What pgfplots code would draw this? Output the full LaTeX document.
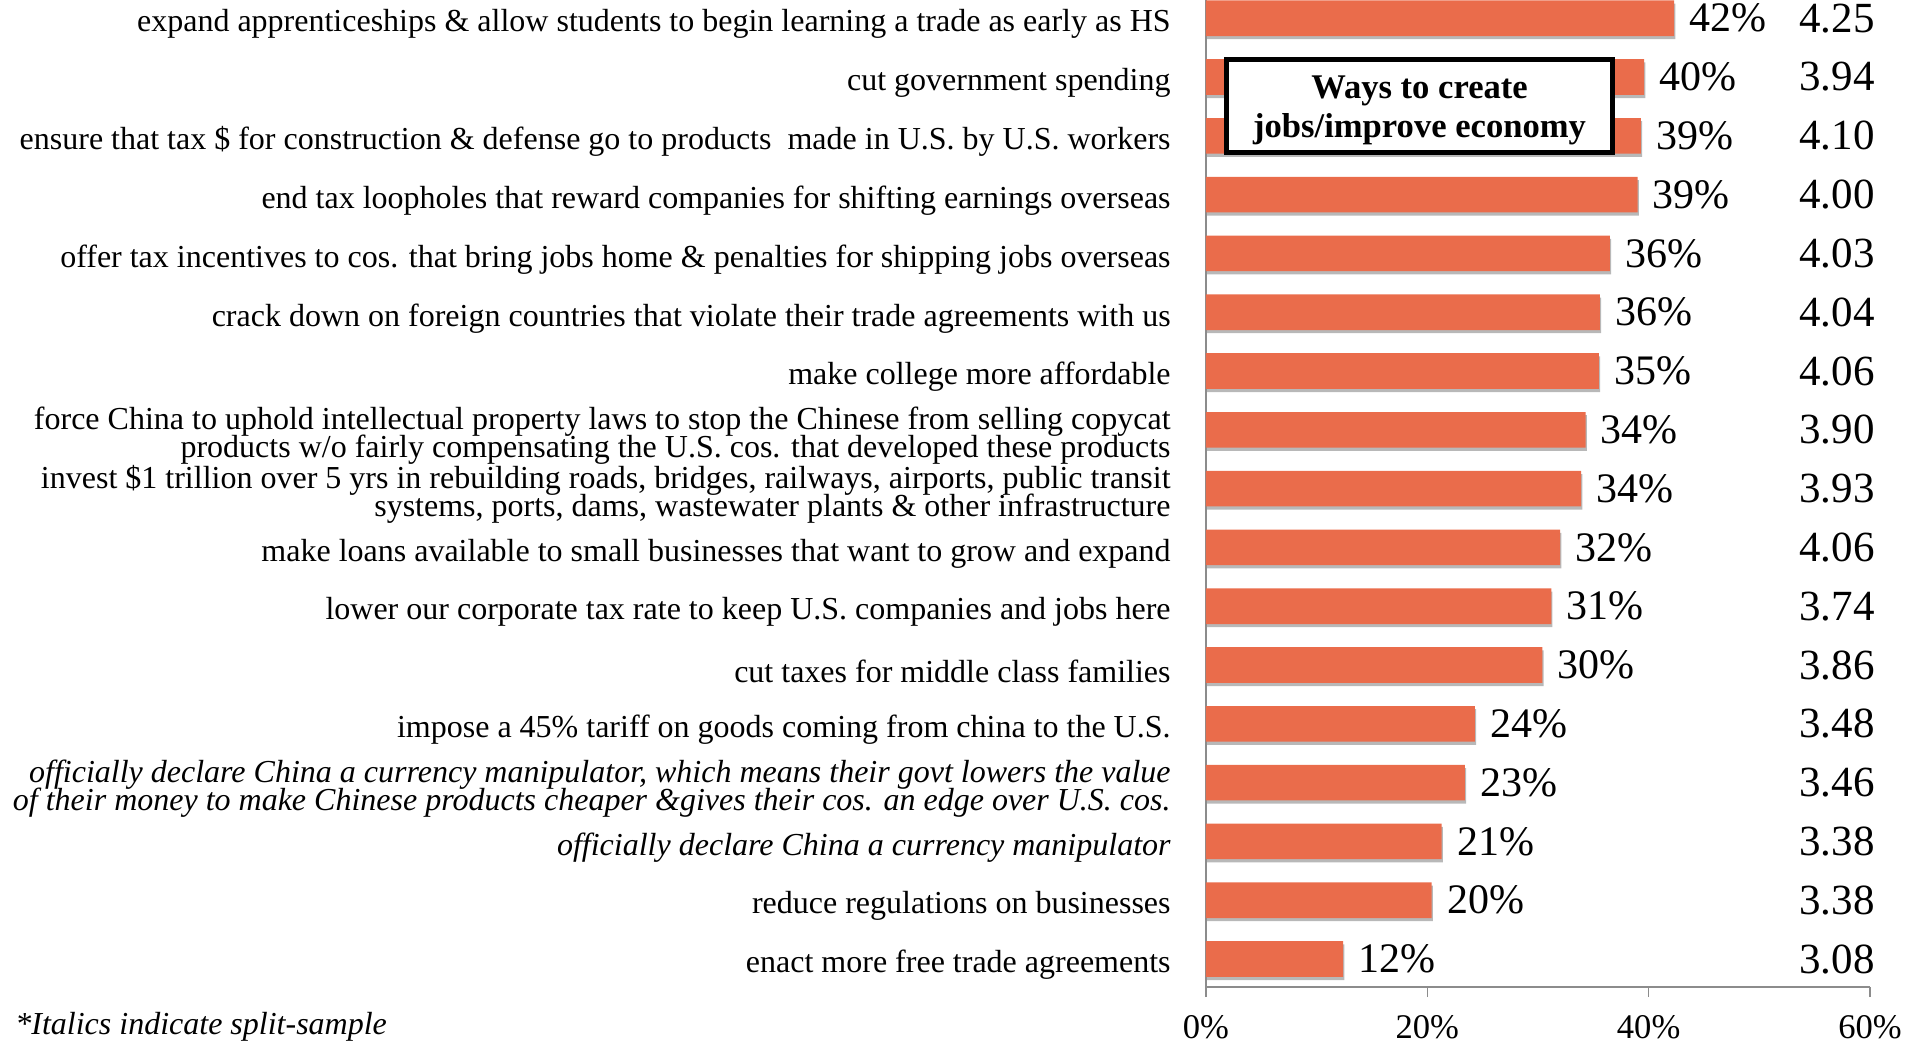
\documentclass[border=0pt]{standalone}
\usepackage{fontspec}
\setmainfont{Liberation Serif}
\usepackage{pgfplots}
\pgfplotsset{compat=1.18}
\usepackage{pgfplotstable}
\usetikzlibrary{shadows}
\definecolor{barc}{HTML}{EA6C4B}
\definecolor{axgray}{HTML}{8C8C8C}
\newcommand\tightlines{\lineskiplimit=-30pt\relax\lineskip=0pt\relax}
\newcommand\labfont{\fontsize{16}{14}\selectfont\tightlines}
\newcommand\boxfont{\bfseries\fontsize{17.3}{19.5}\selectfont\tightlines}

\pgfplotstableread{
y x pct mean
16 42.3 42 4.25
15 39.6 40 3.94
14 39.3 39 4.10
13 39.0 39 4.00
12 36.5 36 4.03
11 35.6 36 4.04
10 35.5 35 4.06
9 34.3 34 3.90
8 33.9 34 3.93
7 32.0 32 4.06
6 31.2 31 3.74
5 30.4 30 3.86
4 24.3 24 3.48
3 23.4 23 3.46
2 21.3 21 3.38
1 20.4 20 3.38
0 12.4 12 3.08
}\datatab

\begin{document}
\begin{tikzpicture}
\begin{axis}[
 scale only axis, width=332pt, height=493.5pt,
 xmin=0, xmax=60, ymin=-0.476, ymax=16.31,
 axis x line*=bottom, axis y line*=left,
 axis line style={axgray, line width=0.8pt},
 /pgf/number format/assume math mode=true,
 xtick={0,20,40,60},
 xticklabel={\pgfmathprintnumber{\tick}\%},
 x tick style={axgray, line width=0.8pt},
 tick align=outside, major tick length=5pt,
 xticklabel style={font=\fontsize{17.3}{20}\selectfont, inner sep=0pt, anchor=base, yshift=-20.5pt},
 ytick={0,...,16}, y tick style={draw=none},
 yticklabels={
 {enact more free trade agreements},
 {reduce regulations on businesses},
 {\itshape officially declare China a currency manipulator},
 {\itshape officially declare China a currency manipulator, which means their govt lowers the value\\ \itshape of their money to make Chinese products cheaper \&gives their cos. an edge over U.S. cos.},
 {impose a 45\% tariff on goods coming from china to the U.S.},
 {cut taxes for middle class families},
 {lower our corporate tax rate to keep U.S. companies and jobs here},
 {make loans available to small businesses that want to grow and expand},
 {invest \$1 trillion over 5 yrs in rebuilding roads, bridges, railways, airports, public transit\\ systems, ports, dams, wastewater plants \& other infrastructure},
 {force China to uphold intellectual property laws to stop the Chinese from selling copycat\\ products w/o fairly compensating the U.S. cos. that developed these products},
 {make college more affordable},
 {crack down on foreign countries that violate their trade agreements with us},
 {offer tax incentives to cos. that bring jobs home \& penalties for shipping jobs overseas},
 {end tax loopholes that reward companies for shifting earnings overseas},
 {ensure that tax \$ for construction \& defense go to products\ \ made in U.S. by U.S. workers},
 {cut government spending},
 {expand apprenticeships \& allow students to begin learning a trade as early as HS}
 },
 yticklabel style={font=\labfont, align=right, inner sep=0pt, xshift=-12.5pt, yshift=-3pt},
 clip=false,
]
\addplot[xbar, bar width=17.8pt, fill=barc, draw=none,
 drop shadow={shadow xshift=0.6pt, shadow yshift=-1.6pt, fill=black, opacity=0.28},
 point meta=\thisrow{pct},
 nodes near coords={\pgfmathprintnumber{\pgfplotspointmeta}\%},
 every node near coord/.append style={font=\fontsize{21}{21}\selectfont, anchor=west, xshift=7.5pt, inner sep=0pt, black}
] table[x=x, y=y]{\datatab};
\addplot[draw=none, mark=none, point meta=\thisrow{mean},
 nodes near coords={\pgfmathprintnumber[fixed,fixed zerofill,precision=2]{\pgfplotspointmeta}},
 every node near coord/.append style={font=\fontsize{21.5}{21.5}\selectfont, anchor=east, inner sep=0pt, xshift=2.5pt, black}
] table[x expr=60, y=y]{\datatab};
\node[draw=black, line width=2.5pt, fill=white, minimum width=193pt, minimum height=46.5pt, inner sep=0pt] at (axis cs:19.3,14.5) {};
\node[align=center, inner sep=0pt, yshift=-2pt, font=\boxfont] at (axis cs:19.3,14.5) {Ways to create\\jobs/improve economy};
\coordinate (bl) at (rel axis cs:0,0);
\coordinate (tr) at (rel axis cs:1,1);
\end{axis}
\node[anchor=base west, inner sep=0pt, font=\itshape\fontsize{16}{16}\selectfont] at ([xshift=-595.5pt, yshift=-23.5pt]bl) {*Italics indicate split-sample};
\pgfresetboundingbox
\path ([xshift=-603pt, yshift=-28.5pt]bl) rectangle ([xshift=22.5pt]tr);
\end{tikzpicture}
\end{document}
